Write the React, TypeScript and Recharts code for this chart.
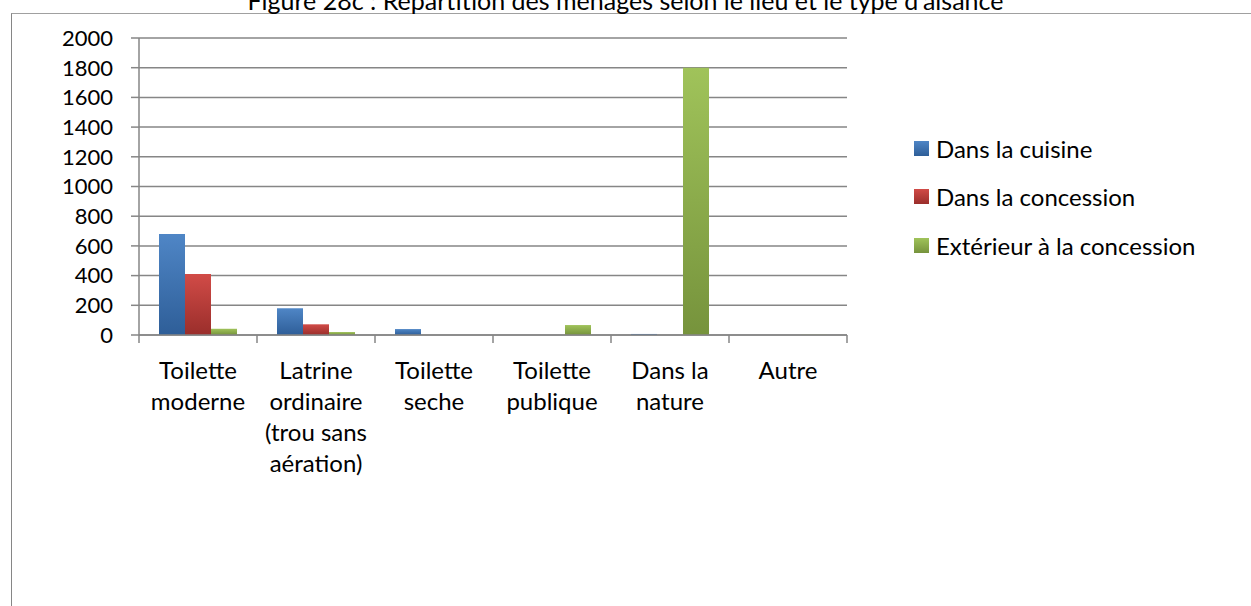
import React from "react";
import { BarChart, Bar, XAxis, YAxis, CartesianGrid } from "recharts";

const categories = [
  "Toilette\nmoderne",
  "Latrine\nordinaire\n(trou sans\naération)",
  "Toilette\nseche",
  "Toilette\npublique",
  "Dans la\nnature",
  "Autre",
];
const cuisine = [680, 180, 40, 0, 7, 0];
const concession = [410, 72, 0, 0, 0, 0];
const exterieur = [42, 20, 0, 67, 1800, 2];
const yTicks = [0, 200, 400, 600, 800, 1000, 1200, 1400, 1600, 1800, 2000];
const seriesNames = ["Dans la cuisine", "Dans la concession", "Extérieur à la concession"];
const title = "Figure 28c : Répartition des ménages selon le lieu et le type d'aisance";

const data = categories.map((c, i) => ({
  name: c,
  cuisine: cuisine[i],
  concession: concession[i],
  exterieur: exterieur[i],
}));

const W = 1251;
const H = 606;
const PLOT_LEFT = 139;
const PLOT_RIGHT = 847;
const PLOT_TOP = 38;
const PLOT_BOTTOM = 335;
const XAXIS_H = 30;
const YAXIS_W = 80;
const BAND = (PLOT_RIGHT - PLOT_LEFT) / categories.length;
const FONT = "Lato, 'Open Sans', sans-serif";
const FS = 24;
const AXIS_COLOR = "#868686";

const colors = [
  { id: "gBlue", top: "#4f86c6", bottom: "#2e5e98" },
  { id: "gRed", top: "#d14b47", bottom: "#9a2e2b" },
  { id: "gGreen", top: "#a0c35a", bottom: "#76933c" },
];

const XTick = (props: any) => {
  const { x, y, payload, index } = props;
  const lines = String(payload.value).split("\n");
  return (
    <g>
      <line x1={x - BAND / 2} x2={x - BAND / 2} y1={y} y2={y + 8} stroke={AXIS_COLOR} strokeWidth={1.5} />
      {index === categories.length - 1 && (
        <line x1={x + BAND / 2} x2={x + BAND / 2} y1={y} y2={y + 8} stroke={AXIS_COLOR} strokeWidth={1.5} />
      )}
      <text x={x} y={y} textAnchor="middle" fontFamily={FONT} fontSize={FS} fill="#000">
        {lines.map((l, i) => (
          <tspan key={i} x={x} y={y + 44 + i * 31}>
            {l}
          </tspan>
        ))}
      </text>
    </g>
  );
};

export default function App() {
  return (
    <div style={{ position: "absolute", left: 0, top: 0, width: W, height: H, overflow: "hidden", background: "#fff" }}>
      <div
        style={{
          position: "absolute",
          left: 11,
          top: 13,
          width: W,
          height: H,
          borderLeft: `1.5px solid ${AXIS_COLOR}`,
          borderTop: `1px solid #a0a0a0`,
          boxSizing: "border-box",
        }}
      />
      <div
        style={{
          position: "absolute",
          left: 0,
          width: W,
          top: -13,
          textAlign: "center",
          fontFamily: FONT,
          fontSize: 25,
          lineHeight: "26px",
          color: "#000",
          whiteSpace: "nowrap",
        }}
      >
        {title}
      </div>
      <div style={{ position: "absolute", left: 0, top: 0 }}>
        <BarChart
          width={W}
          height={H}
          data={data}
          margin={{
            top: PLOT_TOP,
            left: PLOT_LEFT - YAXIS_W,
            right: W - PLOT_RIGHT,
            bottom: H - PLOT_BOTTOM - XAXIS_H,
          }}
          barCategoryGap={20}
          barGap={0}
        >
          <defs>
            {colors.map((c) => (
              <linearGradient key={c.id} id={c.id} x1="0" y1="0" x2="0" y2="1">
                <stop offset="0%" stopColor={c.top} />
                <stop offset="100%" stopColor={c.bottom} />
              </linearGradient>
            ))}
          </defs>
          <CartesianGrid vertical={false} stroke={AXIS_COLOR} strokeWidth={1.5} />
          <XAxis
            dataKey="name"
            interval={0}
            tickLine={false}
            tickSize={0}
            tickMargin={0}
            height={XAXIS_H}
            stroke={AXIS_COLOR}
            strokeWidth={1.5}
            tick={<XTick />}
          />
          <YAxis
            width={YAXIS_W}
            domain={[0, 2000]}
            ticks={yTicks}
            interval={0}
            tickSize={8}
            tickMargin={18}
            stroke={AXIS_COLOR}
            strokeWidth={1.5}
            tick={{ fill: "#000", fontFamily: FONT, fontSize: 22 }}
          />
          <Bar dataKey="cuisine" name={seriesNames[0]} fill="url(#gBlue)" isAnimationActive={false} />
          <Bar dataKey="concession" name={seriesNames[1]} fill="url(#gRed)" isAnimationActive={false} />
          <Bar dataKey="exterieur" name={seriesNames[2]} fill="url(#gGreen)" isAnimationActive={false} />
        </BarChart>
      </div>
      <div style={{ position: "absolute", left: 914, top: 124, fontFamily: FONT, fontSize: FS, color: "#000" }}>
        {seriesNames.map((n, i) => (
          <div key={n} style={{ display: "flex", alignItems: "center", height: 48.5, whiteSpace: "nowrap" }}>
            <span
              style={{
                display: "inline-block",
                width: 15,
                height: 15,
                marginRight: 7,
                background: `linear-gradient(${colors[i].top}, ${colors[i].bottom})`,
              }}
            />
            <span>{n}</span>
          </div>
        ))}
      </div>
    </div>
  );
}
